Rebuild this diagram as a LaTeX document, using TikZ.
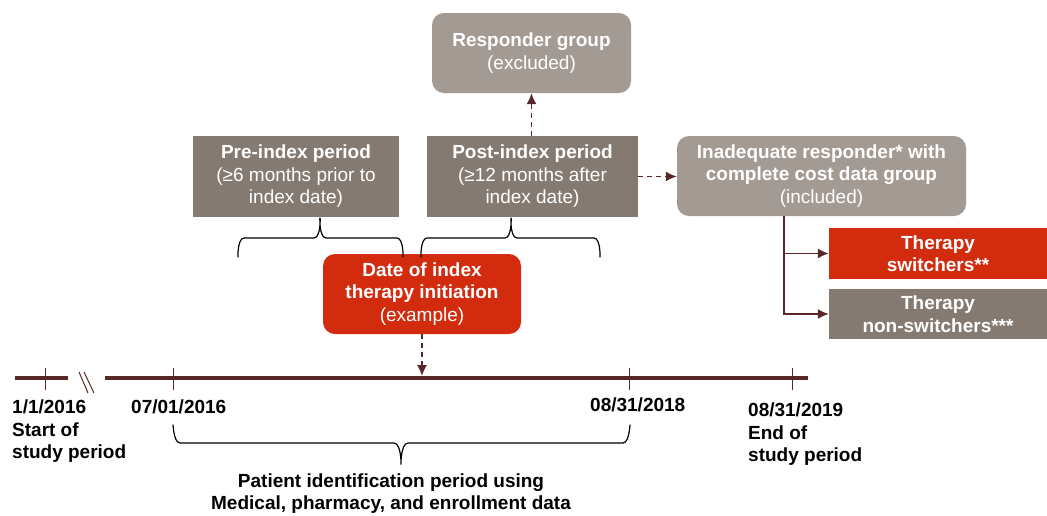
\documentclass[tikz,border=0pt]{standalone}
\usepackage{fontspec}
\setmainfont{Liberation Sans}
\usepackage{tikz}
\usetikzlibrary{arrows.meta,decorations.markings}

\definecolor{lineBrown}{RGB}{88,40,40}
\definecolor{boxRed}{RGB}{210,43,14}
\definecolor{boxGray}{RGB}{163,154,148}
\definecolor{boxDark}{RGB}{133,122,113}

\newcommand{\bigfont}{\fontsize{19}{22.5}\selectfont}

\tikzset{
	box/.style={fill=boxDark, text=white, minimum height=81pt, inner sep=2pt, align=center},
	rbox/.style={box, rounded corners=12pt},
	conn/.style={lineBrown, line width=1.6pt, ->},
	dashconn/.style={conn, dash pattern=on 5pt off 4pt},
	tline/.style={lineBrown, line width=4pt},
	tick/.style={lineBrown, line width=1pt},
	brace/.style={black, line width=1.2pt},
	datelbl/.style={font=\bigfont\bfseries, align=left, inner sep=0pt, anchor=north west},
}

\begin{document}
\begin{tikzpicture}[>={Latex[length=11pt,width=10pt]}, x=1pt, y=-1pt, font=\bigfont]
		\useasboundingbox (0,0) rectangle (1047,515);
		%\draw [help lines, step=50] (0,0) grid (1047,515);
		%boxes
		\node [rbox, fill=boxGray, minimum width=199pt, minimum height=80pt] (resp) at (531.5,53) {\textbf{Responder group}\\(excluded)};
		\node [box, minimum width=206pt] (pre) at (296,176.5) {\textbf{Pre-index period}\\(≥6 months prior to\\index date)};
		\node [box, minimum width=211pt] (post) at (532.5,176.5) {\textbf{Post-index period}\\(≥12 months after\\index date)};
		\node [rbox, fill=boxGray, minimum width=289pt, minimum height=80pt] (inad) at (821.5,176) {\textbf{Inadequate responder* with}\\\textbf{complete cost data group}\\(included)};
		\node [rbox, fill=boxRed, minimum width=198pt, minimum height=80pt] (idx) at (422,294) {\textbf{Date of index}\\\textbf{therapy initiation}\\(example)};
		\node [box, fill=boxRed, minimum width=218pt, minimum height=51pt] (sw) at (938,253.5) {\textbf{Therapy}\\\textbf{switchers**}};
		\node [box, minimum width=218pt, minimum height=50pt] (nsw) at (938,314) {\textbf{Therapy}\\\textbf{non-switchers***}};
		%arrows
		\coordinate (tl) at (0,376);
		\draw [dashconn] (resp.south |- post.north) -- (resp.south);
		\draw [dashconn] (post.east) -- (post.east -| inad.west);
		\draw [dashconn] (idx.south) -- (idx.south |- tl);
		\draw [conn] ([xshift=107pt]inad.south west) |- (sw.west);
		\draw [conn] ([xshift=107pt]inad.south west) |- (nsw.west);
		%braces
		\draw [brace] (238,256) to[out=-90,in=180] (244,238) -- (314,238) to[out=0,in=90] (320,219)
			(320,219) to[out=90,in=180] (326,238) -- (397,238) to[out=0,in=-90] (403,256) -- (403,254);
		\draw [brace] (421,254) -- (421,256) to[out=-90,in=180] (427,238) -- (505,238) to[out=0,in=90] (511,219)
			(511,219) to[out=90,in=180] (517,238) -- (594,238) to[out=0,in=-90] (600,256);
		\draw [brace] (173,426) to[out=90,in=180] (180,443) -- (394,443) to[out=0,in=-90] (401,463)
			(401,463) to[out=-90,in=180] (408,443) -- (623,443) to[out=0,in=90] (630,426);
		%timeline
		\draw [tline] (15,378) -- (68,378);
		\draw [tline] (105,378) -- (808,378);
		\draw [tick] (79,372) -- (88,393);
		\draw [tick] (84,372) -- (94,393);
		\foreach \x in {45,173,629,792}
			\draw [tick] (\x,368) -- (\x,390);
		%dates
		\node [datelbl] (start) at (12,400) {1/1/2016\\Start of\\study period};
		\node [datelbl] (pid0) at (131,400) {07/01/2016};
		\node [datelbl] (pid1) at (590,398) {08/31/2018};
		\node [datelbl] (stop) at (748,403) {08/31/2019\\End of\\study period};
		\node [font=\fontsize{19}{21.5}\selectfont\bfseries, align=center, inner sep=0pt, anchor=north] (pid) at (391,474) {Patient identification period using\\Medical, pharmacy, and enrollment data};
\end{tikzpicture}
\end{document}
